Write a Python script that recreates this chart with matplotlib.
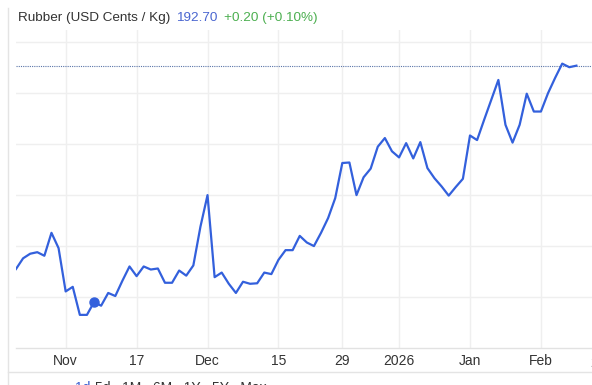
import matplotlib
matplotlib.use("Agg")
import matplotlib.pyplot as plt
import matplotlib.transforms as mtransforms

plt.rcParams['font.family'] = ['Liberation Sans', 'DejaVu Sans']

# ---- data (USD cents / kg), one value per trading day ----
prices = [
    172.75, 173.8, 174.25, 174.4, 174.05, 176.3, 174.8, 170.55, 171.0, 168.25,
    168.25, 169.5, 169.15, 170.4, 170.1, 171.6, 173.0, 172.05, 173.0, 172.7,
    172.8, 171.4, 171.4, 172.6, 172.1, 173.1, 176.9, 180.0, 171.95, 172.4,
    171.3, 170.4, 171.5, 171.3, 171.35, 172.4, 172.25, 173.65, 174.6, 174.6,
    176.0, 175.35, 175.0, 176.3, 177.75, 179.7, 183.15, 183.2, 180.0, 181.75,
    182.6, 184.75, 185.6, 184.3, 183.7, 185.1, 183.6, 185.2, 182.65, 181.65,
    180.85, 179.95, 180.8, 181.6, 185.85, 185.4, 187.4, 189.35, 191.3, 186.9,
    185.15, 186.9, 189.95, 188.2, 188.2, 190.0, 191.5, 192.9, 192.55, 192.7,
]
tick_positions = [7, 17, 27, 37, 46, 54, 64, 74]
tick_labels = ["Nov", "17", "Dec", "15", "29", "2026", "Jan", "Feb"]
next_tick_position = 82
next_tick_label = "23"
last_price = 192.70
change_text = "+0.20 (+0.10%)"
title_text = "Rubber (USD Cents / Kg)"
marker_index = 11
y_grid = [170, 175, 180, 185, 190, 195]

W, H = 592, 385
fig = plt.figure(figsize=(W / 100, H / 100), dpi=100)
fig.patch.set_facecolor("white")

# axes in pixel geometry
left_px, right_px, top_px, bottom_px = 16, 592, 30, 348
ax = fig.add_axes([left_px / W, (H - bottom_px) / H,
                   (right_px - left_px) / W, (bottom_px - top_px) / H])
ax.set_facecolor("white")

x = list(range(len(prices)))
line_color = "#3360dc"
ax.plot(x, prices, color=line_color, lw=1.6, solid_joinstyle="round", zorder=3)
ax.plot([x[marker_index]], [prices[marker_index]], "o", color=line_color,
        ms=6.5, zorder=4)
ax.axhline(last_price, color="#5a74a8", lw=0.8, ls=(0, (1, 1)), zorder=2)

ax.set_xlim(0, 81.2)
ax.set_ylim(165, 196.2)

ax.set_xticks(tick_positions)
ax.set_xticklabels(tick_labels)
ax.set_yticks(y_grid)
ax.tick_params(axis="x", length=0, pad=4, labelsize=10, labelcolor="#333333")
ax.tick_params(axis="y", length=0, labelleft=False)
ax.grid(True, color="#efefef", lw=1.0, zorder=0)

for s in ["top", "right", "left"]:
    ax.spines[s].set_visible(False)
ax.spines["bottom"].set_color("#e2e2e2")
ax.spines["bottom"].set_linewidth(1.0)

# partially visible next tick label at right edge (cut by the figure edge, as in the reference)
trans = mtransforms.blended_transform_factory(ax.transData, ax.transAxes)
ax.text(next_tick_position, 0, next_tick_label,
        transform=trans + mtransforms.ScaledTranslation(0, -5.5 / 72, fig.dpi_scale_trans),
        ha="center", va="top", fontsize=10, color="#333333", clip_on=False)

# title line
fs_title = 9.7
fig.text(18.5 / W, 1 - 18 / H, title_text, fontsize=fs_title, color="#333333",
         va="center", ha="left")
fig.text(176 / W, 1 - 18 / H, f"{last_price:.2f}", fontsize=fs_title,
         color="#4a66d0", va="center", ha="left")
fig.text(224 / W, 1 - 18 / H, change_text, fontsize=fs_title,
         color="#4caf50", va="center", ha="left")

# frame decorations
fig.add_artist(plt.Line2D([8 / W, 8 / W], [0, 1 - 8 / H], color="#e4e4e4",
                          lw=1.0, transform=fig.transFigure))
fig.add_artist(plt.Line2D([8 / W, 1], [1 - 371.5 / H, 1 - 371.5 / H],
                          color="#e4e4e4", lw=1.0, transform=fig.transFigure))
# clipped controls row at the bottom (only its top shows, as in the reference)
fig.text(75 / W, 1 - 380.5 / H, "1d", fontsize=10, color="#3b5fd0",
         va="top", ha="left")
fig.text(95 / W, 1 - 380.5 / H, "5d   1M   6M   1Y   5Y   Max", fontsize=10,
         color="#333333", va="top", ha="left")

fig.savefig("out.png", dpi=100, facecolor="white")
